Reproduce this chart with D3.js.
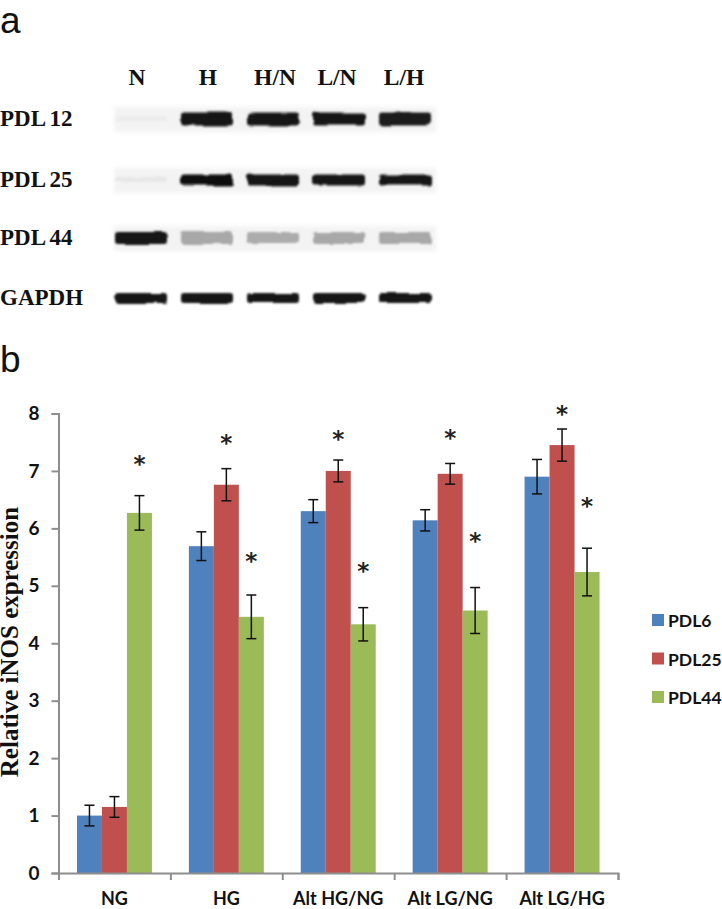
<!DOCTYPE html>
<html>
<head>
<meta charset="utf-8">
<script src="https://cdn.jsdelivr.net/npm/d3@7"></script>
<style>
html, body { margin: 0; padding: 0; background: #fff; }
svg { display: block; }
.serif { font-family: "Liberation Serif", serif; font-weight: bold; fill: #111; }
.lato { font-family: Lato, sans-serif; font-weight: bold; fill: #111; }
.axis path, .axis line { stroke: #8e8e8e; stroke-width: 2; }
</style>
</head>
<body>
<div id="chart"></div>
<script>
// panel a, western blot
var lanes = ["N", "H", "H/N", "L/N", "L/H"];
var blotRows = ["PDL 12", "PDL 25", "PDL 44", "GAPDH"];
var blot12 = [0.08, 0.95, 0.95, 0.95, 0.92];
var blot25 = [0.10, 1.0, 0.95, 0.97, 0.97];
var blot44 = [0.95, 0.36, 0.34, 0.36, 0.36];
var blotGapdh = [0.95, 0.95, 0.95, 0.95, 0.97];

// panel b, bars
var categories = ["NG", "HG", "Alt HG/NG", "Alt LG/NG", "Alt LG/HG"];
var seriesNames = ["PDL6", "PDL25", "PDL44"];
var pdl6 = [1.0, 5.69, 6.3, 6.14, 6.9];
var pdl25 = [1.15, 6.76, 7.0, 6.95, 7.45];
var pdl44 = [6.27, 4.46, 4.33, 4.57, 5.24];
var err6 = [0.18, 0.25, 0.2, 0.185, 0.3];
var err25 = [0.18, 0.28, 0.19, 0.18, 0.28];
var err44 = [0.3, 0.38, 0.29, 0.4, 0.415];
var star25 = [null, 7.52, 7.58, 7.6, 8.01];
var star44 = [7.15, 5.46, 5.29, 5.81, 6.42];

var colors = ["#4f81bd", "#c0504d", "#9bbb59"];
var seriesValues = [pdl6, pdl25, pdl44];
var seriesErrors = [err6, err25, err44];
var seriesStars = [null, star25, star44];

var svg = d3.select("#chart").append("svg").attr("width", 722).attr("height", 909);

// panel letters
svg.append("text").attr("x", 0).attr("y", 33).text("a")
	.style("font-family", "'Liberation Sans', sans-serif").style("font-size", "37px").style("fill", "#111");
svg.append("text").attr("x", 0).attr("y", 372).text("b")
	.style("font-family", "'Liberation Sans', sans-serif").style("font-size", "37px").style("fill", "#111");

// rough, smeared look of the gel bands
var defs = svg.append("defs");
var smear = defs.append("filter").attr("id", "smear")
	.attr("x", "-15%").attr("y", "-60%").attr("width", "130%").attr("height", "220%");
smear.append("feTurbulence").attr("type", "fractalNoise").attr("baseFrequency", "0.04 0.1")
	.attr("numOctaves", 2).attr("seed", 7).attr("result", "noise");
smear.append("feDisplacementMap").attr("in", "SourceGraphic").attr("in2", "noise")
	.attr("scale", 4).attr("result", "moved");
smear.append("feGaussianBlur").attr("in", "moved").attr("stdDeviation", 1.1);
defs.append("filter").attr("id", "haze").append("feGaussianBlur").attr("stdDeviation", 2);

var laneX = d3.scalePoint().domain(lanes).range([141, 405]);
var rowY = d3.scaleOrdinal().domain(blotRows).range([119, 180, 238, 298]);
var labelX = d3.scaleOrdinal().domain(lanes).range([137, 208, 275, 337, 404]);
var bandGrey = d3.scaleLinear().domain([0, 1]).range(["#ffffff", "#0c0c0c"]);
var bandH = d3.scaleOrdinal().domain(blotRows).range([13, 11, 12, 10]);
var blotValues = [blot12, blot25, blot44, blotGapdh];

svg.selectAll(".laneLabel").data(lanes).enter().append("text")
	.attr("class", "serif laneLabel")
	.attr("x", function(d) { return labelX(d); })
	.attr("y", 85)
	.attr("text-anchor", "middle")
	.style("font-size", "23.5px")
	.text(function(d) { return d; });

blotRows.forEach(function(row, r) {
	svg.append("text").attr("class", "serif")
		.attr("x", 0).attr("y", rowY(row) + 7)
		.style("font-size", "23px")
		.style("word-spacing", "-1px")
		.text(row);

	if (r < 3) {
		svg.append("rect")
			.attr("x", 114).attr("width", 322)
			.attr("y", rowY(row) - 12).attr("height", 25)
			.attr("fill", "#f3f3f3").attr("filter", "url(#haze)");
	}

	svg.selectAll(".band" + r).data(blotValues[r]).enter().append("rect")
		.attr("class", "band" + r)
		.attr("x", function(d, i) { return laneX(lanes[i]) - 26; })
		.attr("width", 52)
		.attr("y", function(d) { return rowY(row) - (d < 0.2 ? 3 : bandH(row) / 2); })
		.attr("height", function(d) { return d < 0.2 ? 5 : bandH(row); })
		.attr("rx", 3)
		.attr("fill", function(d) { return bandGrey(d); })
		.attr("filter", "url(#smear)");
});

// bar chart
var x = d3.scaleBand().domain(categories).range([58.5, 618]).paddingInner(0.33).paddingOuter(0.165);
var xEdge = d3.scaleLinear().domain([0, categories.length]).range([58.5, 618]);
var xSeries = d3.scaleBand().domain(seriesNames).range([0, x.bandwidth()]);
var y = d3.scaleLinear().domain([0, 8]).range([873, 413.5]);

seriesNames.forEach(function(name, s) {
	svg.selectAll(".bar" + s).data(seriesValues[s]).enter().append("rect")
		.attr("class", "bar" + s)
		.attr("x", function(d, i) { return x(categories[i]) + xSeries(name); })
		.attr("width", xSeries.bandwidth())
		.attr("y", function(d) { return y(d); })
		.attr("height", function(d) { return y(0) - y(d); })
		.attr("fill", colors[s]);
});

// axes go over the bars, the errors over the axes
var yAxis = d3.axisLeft(y).tickValues(d3.range(0, 9)).tickSize(7).tickSizeOuter(7).tickPadding(12);
var gy = svg.append("g").attr("class", "axis").attr("transform", "translate(58.5,0)").call(yAxis);
gy.selectAll("text").attr("class", "lato").style("font-size", "19px").attr("font-family", null);

var edgeAxis = d3.axisBottom(xEdge).tickValues(d3.range(0, 6)).tickSize(7).tickSizeOuter(7).tickFormat("");
svg.append("g").attr("class", "axis").attr("transform", "translate(0,873)").call(edgeAxis);

var labelAxis = d3.axisBottom(x).tickSize(0).tickPadding(19);
var gx = svg.append("g").attr("transform", "translate(0,873)").call(labelAxis);
gx.select(".domain").remove();
gx.selectAll("text").attr("class", "lato").style("font-size", "18px").attr("font-family", null);

seriesNames.forEach(function(name, s) {
	var midX = function(i) { return x(categories[i]) + xSeries(name) + xSeries.bandwidth() / 2; };
	var vals = seriesValues[s], errs = seriesErrors[s];

	vals.forEach(function(v, i) {
		var hi = y(v + errs[i]), lo = y(v - errs[i]), cx = midX(i);
		var g = svg.append("g").attr("stroke", "#111").attr("stroke-width", 1.5);
		g.append("line").attr("x1", cx).attr("x2", cx).attr("y1", hi).attr("y2", lo);
		g.append("line").attr("x1", cx - 5).attr("x2", cx + 5).attr("y1", hi).attr("y2", hi);
		g.append("line").attr("x1", cx - 5).attr("x2", cx + 5).attr("y1", lo).attr("y2", lo);
	});

	if (seriesStars[s]) {
		svg.selectAll(".star" + s).data(seriesStars[s]).enter()
			.filter(function(d) { return d !== null; })
			.append("text")
			.attr("class", "star" + s)
			.attr("x", function(d) { return midX(seriesStars[s].indexOf(d)); })
			.attr("y", function(d) { return y(d) + 9.5; })
			.attr("text-anchor", "middle")
			.style("font-family", "'DejaVu Sans', sans-serif")
			.style("font-weight", "bold")
			.style("font-size", "23px")
			.style("fill", "#222")
			.text("*");
	}
});

// y title
svg.append("text").attr("class", "serif")
	.attr("transform", "translate(18,642) rotate(-90)")
	.attr("text-anchor", "middle")
	.style("font-size", "25px")
	.text("Relative iNOS expression");

// legend
var legendY = d3.scalePoint().domain(seriesNames).range([620, 697]);
seriesNames.forEach(function(name, s) {
	svg.append("rect").attr("x", 652).attr("y", legendY(name) - 6)
		.attr("width", 12).attr("height", 12).attr("fill", colors[s]);
	svg.append("text").attr("class", "lato")
		.attr("x", 668).attr("y", legendY(name) + 7)
		.style("font-size", "17.5px")
		.text(name);
});
</script>
</body>
</html>
